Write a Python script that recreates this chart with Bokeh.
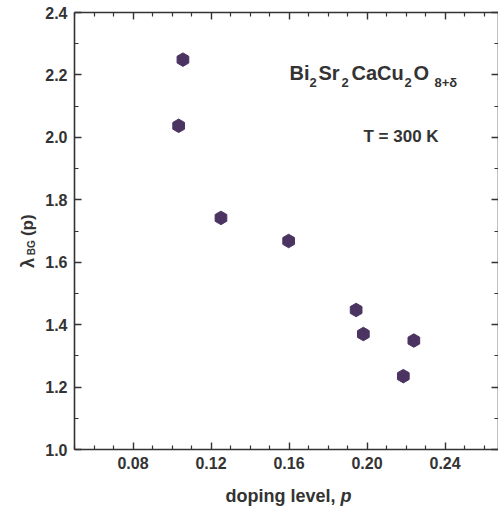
import numpy as np
from bokeh.plotting import figure
from bokeh.layouts import row, column
from bokeh.models import Range1d, LinearAxis, FixedTicker, NumeralTickFormatter, Label
from bokeh.embed import file_html
from bokeh.resources import INLINE

# ---- data ----
doping = [0.1034, 0.1056, 0.1251, 0.1598, 0.1944, 0.1981, 0.2186, 0.2240]
lambda_bg = [2.037, 2.249, 1.742, 1.668, 1.447, 1.370, 1.235, 1.349]

x_major = [0.08, 0.12, 0.16, 0.20, 0.24]
x_minor = [0.05, 0.06, 0.07, 0.09, 0.10, 0.11, 0.13, 0.14, 0.15, 0.17, 0.18,
           0.19, 0.21, 0.22, 0.23, 0.25, 0.26]
y_major = [1.0, 1.2, 1.4, 1.6, 1.8, 2.0, 2.2, 2.4]
y_minor = [1.1, 1.3, 1.5, 1.7, 1.9, 2.1, 2.3]

X0, X1 = 0.05, 0.2674
Y0, Y1 = 1.0, 2.4

FONT = "Liberation Sans"
TXT = "#333333"
MARK = "#4b3461"

W, H = 498, 507
LW = 40          # width of left strip holding the y-axis title
BH = 30          # height of bottom strip holding the x-axis title
FL, FR, FT, FB = 74, 498, 12, 449   # frame edges in page pixels


def px2x(px):
    return X0 + (px - FL) / (FR - FL) * (X1 - X0)


def px2y(py):
    return Y1 - (py - FT) / (FB - FT) * (Y1 - Y0)


p = figure(width=W - LW, height=H - BH, x_range=Range1d(X0, X1),
           y_range=Range1d(Y0, Y1), output_backend="svg", toolbar_location=None,
           min_border_left=FL - LW, min_border_right=0, min_border_top=FT,
           min_border_bottom=H - BH - FB)
p.grid.visible = False
p.outline_line_color = None
p.background_fill_color = "white"
p.border_fill_color = "white"


def style(ax, ticks, minor, fmt, labels=True):
    ax.ticker = FixedTicker(ticks=ticks, minor_ticks=minor)
    ax.formatter = NumeralTickFormatter(format=fmt)
    ax.axis_line_color = TXT
    ax.axis_line_width = 1.6
    ax.major_tick_line_color = TXT
    ax.minor_tick_line_color = TXT
    ax.major_tick_line_width = 1.4
    ax.minor_tick_line_width = 1.2
    ax.major_tick_in = 7
    ax.major_tick_out = 0
    ax.minor_tick_in = 4
    ax.minor_tick_out = 0
    if labels:
        ax.major_label_text_font = FONT
        ax.major_label_text_font_size = "16px"
        ax.major_label_text_font_style = "bold"
        ax.major_label_text_color = TXT
        ax.major_label_standoff = 7
    else:
        ax.major_label_overrides = {t: "" for t in ticks}
        ax.major_label_standoff = 0


style(p.xaxis[0], x_major, x_minor, "0.00")
style(p.yaxis[0], y_major, y_minor, "0.0")

top = LinearAxis()
style(top, x_major, x_minor, "0.00", labels=False)
p.add_layout(top, "above")
right = LinearAxis()
style(right, y_major, y_minor, "0.0", labels=False)
p.add_layout(right, "right")

p.scatter(doping, lambda_bg, marker="hex", size=13.5, angle=np.pi / 2,
          fill_color=MARK, line_color=MARK)


def mk_label(fig, x, y, text, size, style="bold", angle=0.0):
    fig.add_layout(Label(x=x, y=y, text=text, text_font=FONT,
                         text_font_size=f"{size}px", text_font_style=style,
                         text_color=TXT, text_baseline="alphabetic",
                         text_align="left", angle=angle))


def lab(px, py, text, size, style="bold"):
    mk_label(p, px2x(px), px2y(py), text, size, style)


# compound label Bi2Sr2CaCu2O8+δ
lab(289, 72, "Bi", 20)
lab(309, 82, "2", 13)
lab(318, 72, "Sr", 20)
lab(341, 82, "2", 13)
lab(351, 72, "CaCu", 20)
lab(404, 82, "2", 13)
lab(413, 72, "O", 20)
lab(434, 82, "8+δ", 13)

lab(363, 136, "T = 300 K", 17)


def strip(w, h):
    f = figure(width=w, height=h, x_range=Range1d(0, w), y_range=Range1d(h, 0),
               output_backend="svg", toolbar_location=None,
               x_axis_location=None, y_axis_location=None,
               min_border=0, min_border_left=0, min_border_right=0,
               min_border_top=0, min_border_bottom=0)
    f.grid.visible = False
    f.outline_line_color = None
    f.background_fill_color = "white"
    f.border_fill_color = "white"
    return f


# y axis title (rotated), in the left strip
left = strip(LW, H - BH)
mk_label(left, 27, 279, "λ", 18, angle=np.pi / 2)
mk_label(left, 31, 265, "BG", 10, angle=np.pi / 2)
mk_label(left, 27, 244, "(p)", 17, angle=np.pi / 2)

# x axis title, in the bottom strip
bottom = strip(W, BH)
mk_label(bottom, 225, 495 - (H - BH), "doping level, ", 18)
mk_label(bottom, 340, 495 - (H - BH), "p", 18, style="bold italic")

layout = column(row(left, p), bottom)
open("out.html", "w").write(file_html(layout, INLINE))
